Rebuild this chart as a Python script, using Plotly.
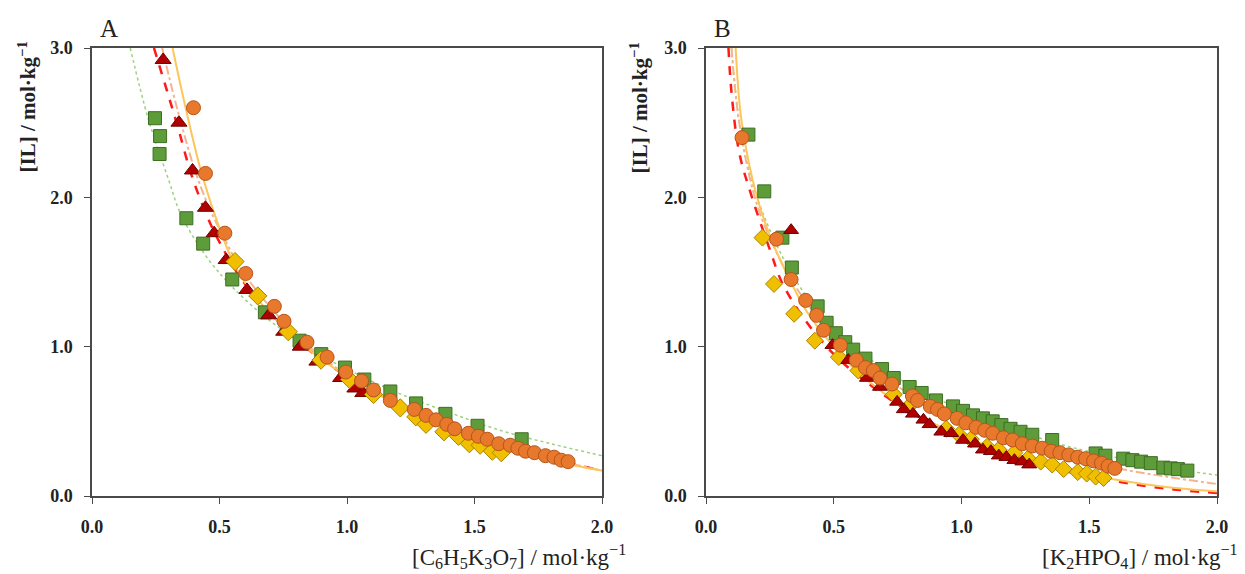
import plotly.graph_objects as go
from plotly.subplots import make_subplots

# ---- panel A : [C6H5K3O7] ----
a_sq_x = [0.247, 0.267, 0.265, 0.37, 0.436, 0.55, 0.678, 0.814, 0.899, 0.992, 1.068, 1.17, 1.271, 1.386, 1.512, 1.685]
a_sq_y = [2.53, 2.41, 2.29, 1.86, 1.69, 1.45, 1.23, 1.04, 0.95, 0.86, 0.78, 0.70, 0.62, 0.55, 0.47, 0.38]
a_tri_x = [0.279, 0.341, 0.394, 0.445, 0.479, 0.526, 0.608, 0.693, 0.752, 0.817, 0.882, 0.975, 1.031, 1.062]
a_tri_y = [2.92, 2.50, 2.18, 1.93, 1.76, 1.58, 1.38, 1.21, 1.10, 1.00, 0.90, 0.79, 0.72, 0.69]
a_dia_x = [0.561, 0.65, 0.77, 0.898, 1.01, 1.104, 1.209, 1.27, 1.31, 1.38, 1.437, 1.48, 1.522, 1.57, 1.605]
a_dia_y = [1.57, 1.34, 1.10, 0.91, 0.78, 0.68, 0.59, 0.53, 0.48, 0.43, 0.40, 0.35, 0.34, 0.30, 0.29]
a_cir_x = [0.398, 0.445, 0.521, 0.603, 0.715, 0.753, 0.843, 0.922, 0.995, 1.057, 1.104, 1.17, 1.264, 1.31,
           1.349, 1.391, 1.422, 1.476, 1.515, 1.55, 1.595, 1.64, 1.67, 1.70, 1.735, 1.778, 1.812, 1.84, 1.867]
a_cir_y = [2.60, 2.16, 1.76, 1.49, 1.27, 1.17, 1.03, 0.93, 0.83, 0.77, 0.71, 0.64, 0.58, 0.54,
           0.51, 0.48, 0.45, 0.42, 0.40, 0.38, 0.35, 0.34, 0.32, 0.30, 0.29, 0.27, 0.26, 0.24, 0.23]

# fitted curves
a_green_x = [0.15, 0.22, 0.30, 0.35, 0.45, 0.55, 0.70, 0.90, 1.0, 1.2, 1.4, 1.6, 1.8, 2.0]
a_green_y = [3.0, 2.53, 2.12, 1.88, 1.60, 1.40, 1.17, 0.94, 0.85, 0.69, 0.56, 0.44, 0.35, 0.27]
a_red_x = [0.243, 0.30, 0.34, 0.39, 0.45, 0.50, 0.60, 0.80, 1.0, 1.2, 1.4, 1.6, 1.8, 2.0]
a_red_y = [3.0, 2.68, 2.45, 2.15, 1.88, 1.70, 1.42, 1.05, 0.80, 0.62, 0.47, 0.35, 0.25, 0.17]
a_peach_x = [0.275, 0.33, 0.40, 0.45, 0.52, 0.60, 0.80, 1.0, 1.2, 1.4, 1.6, 1.8, 2.0]
a_peach_y = [3.0, 2.62, 2.20, 1.97, 1.72, 1.48, 1.08, 0.81, 0.62, 0.47, 0.35, 0.25, 0.17]
a_solid_x = [0.316, 0.367, 0.43, 0.507, 0.553, 0.62, 0.80, 1.0, 1.2, 1.4, 1.6, 1.8, 2.0]
a_solid_y = [3.0, 2.60, 2.16, 1.76, 1.57, 1.38, 1.05, 0.80, 0.61, 0.46, 0.34, 0.24, 0.17]

# ---- panel B : [K2HPO4] ----
b_sq_x = [0.166, 0.228, 0.299, 0.336, 0.437, 0.472, 0.508, 0.545, 0.576, 0.624, 0.689, 0.735, 0.797, 0.844,
          0.9, 0.967, 1.006, 1.045, 1.084, 1.122, 1.156, 1.192, 1.231, 1.277, 1.355, 1.525, 1.563, 1.633,
          1.669, 1.703, 1.741, 1.79, 1.819, 1.847, 1.884]
b_sq_y = [2.42, 2.04, 1.73, 1.53, 1.27, 1.16, 1.09, 1.03, 0.98, 0.92, 0.85, 0.79, 0.73, 0.69,
          0.64, 0.60, 0.57, 0.54, 0.52, 0.50, 0.475, 0.45, 0.43, 0.41, 0.375, 0.285, 0.27, 0.25,
          0.24, 0.23, 0.22, 0.19, 0.185, 0.18, 0.17]
b_tri_x = [0.333, 0.495, 0.557, 0.63, 0.681, 0.748, 0.774, 0.81, 0.851, 0.875, 0.921, 0.96, 1.006, 1.053,
           1.084, 1.115, 1.146, 1.176, 1.207, 1.238, 1.265]
b_tri_y = [1.78, 1.01, 0.91, 0.79, 0.73, 0.63, 0.58, 0.55, 0.51, 0.48, 0.43, 0.42, 0.375, 0.35,
           0.31, 0.30, 0.27, 0.26, 0.24, 0.23, 0.21]
b_dia_x = [0.221, 0.266, 0.345, 0.426, 0.52, 0.596, 0.735, 0.794, 0.94, 0.99, 1.037, 1.1, 1.145, 1.207,
           1.26, 1.31, 1.355, 1.40, 1.455, 1.49, 1.525, 1.556]
b_dia_y = [1.73, 1.42, 1.22, 1.04, 0.93, 0.84, 0.68, 0.60, 0.45, 0.41, 0.38, 0.33, 0.31, 0.29,
           0.25, 0.23, 0.21, 0.18, 0.16, 0.15, 0.13, 0.12]
b_cir_x = [0.141, 0.276, 0.333, 0.39, 0.433, 0.46, 0.526, 0.588, 0.624, 0.655, 0.681, 0.728, 0.808, 0.828,
           0.878, 0.906, 0.933, 0.983, 1.017, 1.057, 1.091, 1.122, 1.164, 1.2, 1.238, 1.277, 1.316,
           1.351, 1.385, 1.42, 1.455, 1.486, 1.517, 1.548, 1.574, 1.60]
b_cir_y = [2.40, 1.72, 1.45, 1.31, 1.21, 1.11, 1.01, 0.91, 0.86, 0.84, 0.79, 0.75, 0.67, 0.64,
           0.60, 0.58, 0.55, 0.52, 0.49, 0.46, 0.44, 0.42, 0.39, 0.375, 0.35, 0.335, 0.32,
           0.30, 0.29, 0.275, 0.26, 0.25, 0.235, 0.22, 0.20, 0.185]

b_green_x = [0.10, 0.14, 0.2, 0.3, 0.4, 0.5, 0.6, 0.8, 1.0, 1.2, 1.4, 1.6, 1.8, 2.0]
b_green_y = [3.0, 2.4, 2.0, 1.6, 1.32, 1.12, 0.97, 0.74, 0.58, 0.45, 0.34, 0.26, 0.19, 0.14]
b_red_x = [0.088, 0.10, 0.13, 0.18, 0.25, 0.30, 0.40, 0.50, 0.60, 0.80, 1.0, 1.2, 1.4, 1.6, 1.8, 2.0]
b_red_y = [3.0, 2.7, 2.3, 2.0, 1.65, 1.42, 1.15, 0.95, 0.80, 0.56, 0.40, 0.27, 0.17, 0.10, 0.05, 0.02]
b_peach_x = [0.10, 0.13, 0.2, 0.3, 0.4, 0.5, 0.6, 0.8, 1.0, 1.2, 1.4, 1.6, 1.8, 2.0]
b_peach_y = [3.0, 2.5, 1.95, 1.55, 1.28, 1.08, 0.92, 0.68, 0.51, 0.38, 0.28, 0.19, 0.13, 0.08]
b_solid_x = [0.116, 0.14, 0.2, 0.26, 0.33, 0.4, 0.5, 0.6, 0.8, 1.0, 1.2, 1.4, 1.6, 1.8, 2.0]
b_solid_y = [3.0, 2.5, 2.0, 1.70, 1.44, 1.22, 1.0, 0.82, 0.57, 0.40, 0.28, 0.18, 0.11, 0.06, 0.03]

SERIF = "Liberation Serif, Times New Roman, serif"

fig = make_subplots(rows=1, cols=2)


def add_panel(col, lines, points):
    for x, y, color, dash, w in lines:
        fig.add_trace(go.Scatter(x=x, y=y, mode="lines", line=dict(color=color, dash=dash, width=w, shape="spline"),
                                 showlegend=False, hoverinfo="skip"), row=1, col=col)
    for x, y, sym, color, edge, size in points:
        fig.add_trace(go.Scatter(x=x, y=y, mode="markers",
                                 marker=dict(symbol=sym, color=color, size=size, line=dict(color=edge, width=1)),
                                 showlegend=False), row=1, col=col)


add_panel(1,
          [(a_green_x, a_green_y, "#9fd07f", "dot", 1.5),
           (a_red_x, a_red_y, "#ff1a1a", "dash", 2.5),
           (a_peach_x, a_peach_y, "#f6b48c", "dashdot", 2),
           (a_solid_x, a_solid_y, "#fdc65a", "solid", 2)],
          [(a_sq_x, a_sq_y, "square", "#5e9c3a", "#3c6e22", 13),
           (a_tri_x, a_tri_y, "triangle-up", "#b00000", "#6e0000", 14),
           (a_dia_x, a_dia_y, "diamond", "#f0c000", "#a88400", 14),
           (a_cir_x, a_cir_y, "circle", "#e8782c", "#b5551a", 14)])

add_panel(2,
          [(b_green_x, b_green_y, "#9fd07f", "dot", 1.5),
           (b_red_x, b_red_y, "#ff1a1a", "dash", 2.5),
           (b_peach_x, b_peach_y, "#f6b48c", "dashdot", 2),
           (b_solid_x, b_solid_y, "#fdc65a", "solid", 2)],
          [(b_sq_x, b_sq_y, "square", "#5e9c3a", "#3c6e22", 13),
           (b_dia_x, b_dia_y, "diamond", "#f0c000", "#a88400", 13),
           (b_tri_x, b_tri_y, "triangle-up", "#b00000", "#6e0000", 13),
           (b_cir_x, b_cir_y, "circle", "#e8782c", "#b5551a", 14)])

# the page body adds an 8 px margin, so the figure is laid out in page pixels minus 8
OFF = 8
W, H = 1245 - OFF, 574 - OFF


def px_x(p):
    return (p - OFF) / W


def px_y(p):
    return 1 - (p - OFF) / H


ax = dict(showgrid=False, zeroline=False, showline=True, mirror=True, linecolor="#4a4a4a", linewidth=1.5,
          ticks="outside", ticklen=6, tickcolor="#4a4a4a", tickformat=".1f", ticklabelstandoff=8,
          tickfont=dict(family=SERIF, size=18, color="#222222", weight="bold"))
fig.update_xaxes(ax, range=[0, 2], dtick=0.5)
fig.update_yaxes(ax, range=[0, 3], dtick=1)

ydom = [px_y(496), px_y(48)]
fig.update_layout(
    width=W, height=H, margin=dict(l=0, r=0, t=0, b=0, autoexpand=False),
    plot_bgcolor="white", paper_bgcolor="white",
    xaxis=dict(domain=[px_x(92), px_x(602)]), yaxis=dict(domain=ydom),
    xaxis2=dict(domain=[px_x(706), px_x(1217)]), yaxis2=dict(domain=ydom),
)

ann = []
for letter, xl in [("A", 109), ("B", 722)]:
    ann.append(dict(text=letter, x=px_x(xl), y=px_y(28), xref="paper", yref="paper", showarrow=False,
                    xanchor="center", yanchor="middle", font=dict(family=SERIF, size=25, color="#222222")))
for xl in [27, 639]:
    ann.append(dict(text="<b>[IL] / mol·kg<sup>−1</sup></b>", x=px_x(xl), y=px_y(40), xref="paper", yref="paper",
                    showarrow=False, textangle=-90, xanchor="center", yanchor="top",
                    font=dict(family=SERIF, size=21, color="#222222")))
ann.append(dict(text="[C<sub>6</sub>H<sub>5</sub>K<sub>3</sub>O<sub>7</sub>] / mol·kg<sup>−1</sup>",
                x=px_x(628), y=px_y(556), xref="paper", yref="paper", showarrow=False,
                xanchor="right", yanchor="middle", font=dict(family=SERIF, size=23, color="#222222")))
ann.append(dict(text="[K<sub>2</sub>HPO<sub>4</sub>] / mol·kg<sup>−1</sup>",
                x=px_x(1240), y=px_y(556), xref="paper", yref="paper", showarrow=False,
                xanchor="right", yanchor="middle", font=dict(family=SERIF, size=23, color="#222222")))
fig.update_layout(annotations=ann)

fig.write_html("out.html")
